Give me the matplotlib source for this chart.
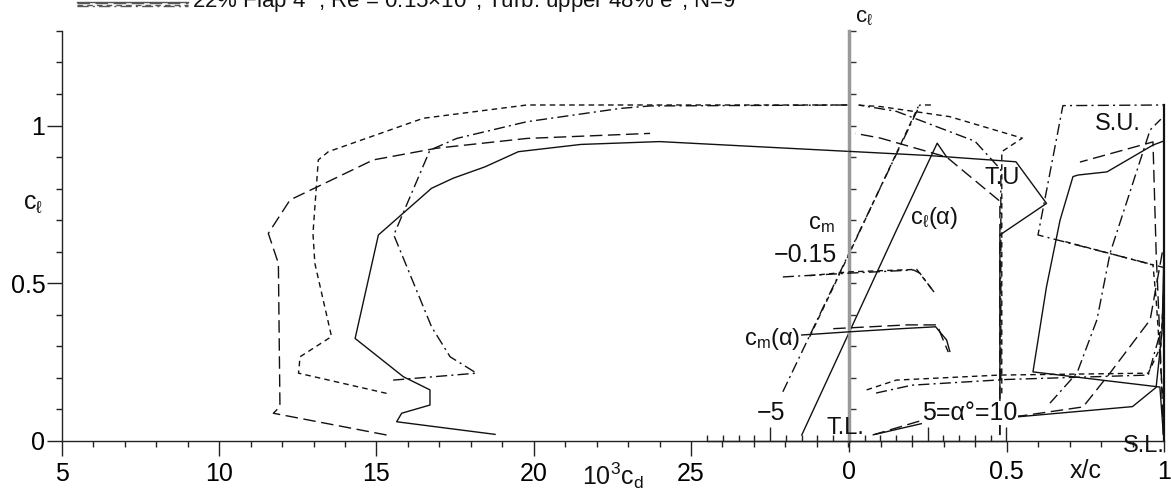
import numpy as np
import matplotlib.pyplot as plt
from matplotlib.lines import Line2D

plt.rcParams['font.family'] = ['Liberation Sans', 'DejaVu Sans']
plt.rcParams['mathtext.fontset'] = 'custom'
plt.rcParams['mathtext.rm'] = 'Liberation Sans'
plt.rcParams['mathtext.it'] = 'Liberation Sans'
plt.rcParams['mathtext.bf'] = 'Liberation Sans'

# ---- drag polar, 10^3 cd vs cl (four runs) ----
cd_solid = [18.77, 15.64, 15.80, 16.70, 16.70, 15.85, 14.32, 15.06, 16.75, 17.44, 18.45, 19.51, 21.5, 24.0, 30.0]
cl_solid = [0.021, 0.061, 0.088, 0.114, 0.162, 0.204, 0.325, 0.653, 0.801, 0.833, 0.869, 0.917, 0.940, 0.949, 0.918]
cd_long = [15.32, 11.72, 11.93, 11.88, 11.56, 12.25, 14.90, 16.91, 19.78, 23.70]
cl_long = [0.019, 0.088, 0.109, 0.563, 0.658, 0.764, 0.891, 0.928, 0.959, 0.975]
cd_short = [15.32, 12.52, 12.57, 13.57, 13.04, 12.98, 13.15, 13.47, 16.49, 19.78, 30.0]
cl_short = [0.151, 0.215, 0.267, 0.331, 0.563, 0.658, 0.891, 0.917, 1.023, 1.065, 1.065]
cd_dd = [15.53, 18.18, 17.34, 16.75, 15.55, 16.70, 17.55, 19.78, 22.74, 23.7, 30.0]
cl_dd = [0.193, 0.215, 0.267, 0.362, 0.653, 0.922, 0.959, 1.012, 1.054, 1.062, 1.065]

# ---- lift curves cl(alpha) ----
alpha_cl_solid = [-3.0, 0.0, 3.0, 5.6, 6.2]
cl_alpha_solid = [0.019, 0.343, 0.667, 0.944, 0.900]
alpha_cl_dd = [-4.2, 0.0, 4.5, 5.2]
cl_alpha_dd = [0.156, 0.595, 1.065, 1.065]
alpha_cl_short = [-2.5, 0.0, 4.4]
cl_alpha_short = [0.330, 0.592, 1.060]

# ---- moment curves cm(alpha) ----
alpha_cm_solid = [-3.0, 0.0, 3.0, 5.5, 6.2, 6.4]
cm_solid = [-0.084, -0.0865, -0.0888, -0.0905, -0.080, -0.071]
alpha_cm_long = [-1.0, 3.7, 5.6, 5.8, 6.3]
cm_long = [-0.089, -0.092, -0.092, -0.0855, -0.0705]
alpha_cm_dd = [-4.2, 0.0, 4.1, 4.5, 5.4]
cm_dd = [-0.130, -0.133, -0.1355, -0.133, -0.118]
alpha_cm_short = [-2.5, 0.0, 4.3, 5.4]
cm_short = [-0.131, -0.134, -0.136, -0.118]

# ---- transition (T.U., T.L.) and separation (S.U., S.L.) x/c vs cl ----
tu_solid_xc = [0.479, 0.479, 0.627, 0.53, 0.25, 0.0]
tu_solid_cl = [0.021, 0.653, 0.753, 0.885, 0.905, 0.918]
tu_long_xc = [0.479, 0.479, 0.31, 0.10, 0.02]
tu_long_cl = [0.019, 0.76, 0.90, 0.96, 0.975]
tu_short_xc = [0.485, 0.485, 0.55, 0.32, 0.10, 0.02]
tu_short_cl = [0.151, 0.917, 0.96, 1.028, 1.06, 1.065]
tu_dd_xc = [0.482, 0.482, 0.40, 0.15, 0.03]
tu_dd_cl = [0.193, 0.86, 0.95, 1.045, 1.065]

tl_solid_xc = [0.083, 0.23, 0.54, 0.90, 0.975, 0.994, 1.0]
tl_solid_cl = [0.021, 0.055, 0.077, 0.109, 0.17, 0.35, 0.6]
tl_long_xc = [0.075, 0.22, 0.55, 0.743, 0.829, 0.956, 0.995]
tl_long_cl = [0.019, 0.062, 0.08, 0.108, 0.216, 0.384, 0.6]
tl_short_xc = [0.056, 0.15, 0.479, 0.95, 0.99, 1.0]
tl_short_cl = [0.162, 0.193, 0.209, 0.215, 0.3, 0.5]
tl_dd_xc = [0.086, 0.2, 0.5, 0.95, 0.99]
tl_dd_cl = [0.152, 0.177, 0.195, 0.209, 0.35]

su_solid_xc = [0.998, 0.987, 0.584, 0.627, 0.67, 0.711, 0.727, 0.819, 0.965, 0.997]
su_solid_cl = [0.021, 0.171, 0.219, 0.489, 0.70, 0.838, 0.843, 0.853, 0.938, 0.95]
su_long_xc = [0.998, 0.99, 0.975, 0.965, 0.733]
su_long_cl = [0.019, 0.25, 0.6, 0.948, 0.884]
su_short_xc = [0.995, 0.975, 0.965, 0.686]
su_short_cl = [0.151, 0.45, 0.558, 0.632]
su_dd_xc = [0.999, 0.999, 0.60, 0.679, 0.997]
su_dd_cl = [0.193, 0.55, 0.653, 1.063, 1.065]
sl_dd_xc = [0.638, 0.724, 0.787, 0.829, 0.956, 0.99]
sl_dd_cl = [0.12, 0.216, 0.384, 0.596, 0.986, 1.02]
sl_xc = [1.0, 1.0]
sl_cl = [0.0, 1.065]

cd_ticks = [5, 10, 15, 20, 25]
cl_ticks = [0, 0.5, 1]
xc_ticks = [0, 0.5, 1]

W, H = 1171, 493
LS = {'solid': '-', 'long': (0, (9, 4)), 'short': (0, (4, 3)), 'dd': (0, (8, 3, 1.5, 3))}
INK = '#111111'

fig = plt.figure(figsize=(W / 100, H / 100), dpi=100)


def frame(v0, px0, sx, ylim):
  # overlay axes spanning the figure; px0 = pixel where v0 sits, sx = px per unit
  ax = fig.add_axes([0, 0, 1, 1], facecolor='none')
  ax.set_xlim(v0 - px0 / sx, v0 + (W - px0) / sx)
  ax.set_ylim(*ylim)
  for s in ax.spines.values():
    s.set_visible(False)
  ax.set_xticks([])
  ax.set_yticks([])
  return ax


cl_lim = (-(H - 441) / 315.5, 441 / 315.5)
cm_lim = tuple(-0.15 - (c - 0.6) * 0.25 for c in cl_lim)

ax = frame(5, 62, 31.45, cl_lim)      # cd polar
axa = frame(0, 849, 15.75, cl_lim)    # alpha vs cl
axm = frame(0, 849, 15.75, cm_lim)    # alpha vs cm
axx = frame(0, 849, 315.0, cl_lim)    # x/c vs cl


def curve(a, x, y, style, lw=1.0):
  a.plot(x, y, color=INK, lw=lw, ls=LS[style], dash_capstyle='butt')


# axes lines and ticks
ax.spines['left'].set_visible(True)
ax.spines['left'].set_position(('data', 5))
ax.spines['left'].set_bounds(0, 1.3)
ax.spines['bottom'].set_visible(True)
ax.spines['bottom'].set_position(('data', 0))
ax.spines['bottom'].set_bounds(5, 30)
ax.set_yticks(cl_ticks, ['0', '0.5', '1'])
ax.set_yticks(np.round(np.arange(14) * 0.1, 1), minor=True)
ax.set_xticks(cd_ticks, [str(t) for t in cd_ticks])
ax.set_xticks(np.arange(5, 31), minor=True)
ax.tick_params(which='major', direction='out', length=11, width=1, color='#222222', labelsize=18, pad=4)
ax.tick_params(axis='y', which='major', pad=1)
ax.tick_params(which='minor', direction='out', length=4.5, width=1, color='#222222')

axx.spines['bottom'].set_visible(True)
axx.spines['bottom'].set_position(('data', 0))
axx.spines['bottom'].set_bounds(0, 1)
axx.set_xticks(xc_ticks, ['0', '0.5', '1'])
axx.set_xticks(np.round(np.arange(11) * 0.1, 1), minor=True)
axx.tick_params(axis='x', which='major', direction='out', length=8, width=1, color='#222222', labelsize=18, pad=6)
axx.tick_params(axis='x', which='minor', direction='out', length=4.5, width=1, color='#222222')

axa.spines['bottom'].set_visible(True)
axa.spines['bottom'].set_position(('data', 0))
axa.spines['bottom'].set_bounds(-9, 10)
axa.set_xticks([-5, 5, 10])
axa.set_xticks(np.arange(-9, 11), minor=True)
axa.tick_params(axis='x', which='major', direction='in', length=10, width=1, color='#222222', labelbottom=False)
axa.tick_params(axis='x', which='minor', direction='in', length=4.5, width=1, color='#222222')
axa.spines['left'].set_visible(True)
axa.spines['left'].set_position(('data', 0))
axa.spines['left'].set_bounds(0, 1.3)
axa.spines['left'].set_color('#999999')
axa.spines['left'].set_linewidth(2.5)
axa.set_yticks(np.round(np.arange(1, 14) * 0.1, 1))
axa.tick_params(axis='y', direction='in', length=5, width=1, color='#333333', labelleft=False)
for a in (ax, axa, axx):
  for s in ('left', 'bottom'):
    if a is axa and s == 'left':
      continue
    a.spines[s].set_color('#222222')
    a.spines[s].set_linewidth(1.0)

# polars
curve(ax, cd_solid, cl_solid, 'solid')
curve(ax, cd_long, cl_long, 'long')
curve(ax, cd_short, cl_short, 'short')
curve(ax, cd_dd, cl_dd, 'dd')

# cl(alpha), cm(alpha)
curve(axa, alpha_cl_solid, cl_alpha_solid, 'solid')
curve(axa, alpha_cl_dd, cl_alpha_dd, 'dd')
curve(axa, alpha_cl_short, cl_alpha_short, 'short')
curve(axm, alpha_cm_solid, cm_solid, 'solid')
curve(axm, alpha_cm_long, cm_long, 'long')
curve(axm, alpha_cm_dd, cm_dd, 'dd')
curve(axm, alpha_cm_short, cm_short, 'short')

# transition / separation
curve(axx, tu_solid_xc, tu_solid_cl, 'solid')
curve(axx, tu_long_xc, tu_long_cl, 'long')
curve(axx, tu_short_xc, tu_short_cl, 'short')
curve(axx, tu_dd_xc, tu_dd_cl, 'dd')
curve(axx, tl_solid_xc, tl_solid_cl, 'solid')
curve(axx, tl_long_xc, tl_long_cl, 'long')
curve(axx, tl_short_xc, tl_short_cl, 'short')
curve(axx, tl_dd_xc, tl_dd_cl, 'dd')
curve(axx, su_solid_xc, su_solid_cl, 'solid')
curve(axx, su_long_xc, su_long_cl, 'long')
curve(axx, su_short_xc, su_short_cl, 'short')
curve(axx, su_dd_xc, su_dd_cl, 'dd')
curve(axx, sl_dd_xc, sl_dd_cl, 'dd')
curve(axx, sl_xc, sl_cl, 'solid', lw=1.6)


def label(x, y, s, size=17, **kw):
  kw.setdefault('ha', 'center')
  kw.setdefault('va', 'center')
  fig.text(x / W, 1 - y / H, s, fontsize=size, color=INK, **kw)


label(192, 8, r"22% Flap 4$^\circ$, Re = 0.15×10$^6$, Turb. upper 48% e$^9$, N=9", size=16, ha='left', va='baseline')
for k, (st, yy) in enumerate([('solid', 1.5), ('long', 3.0), ('short', 4.5), ('dd', 6.0)]):
  fig.add_artist(Line2D([77 / W, 188 / W], [1 - yy / H] * 2, color='#555555', lw=1.0, ls=LS[st]))

label(33, 203, r"c$_\ell$", size=18)
label(613, 476, r"10$^3$c$_d$", size=18)
label(864, 17, r"c$_\ell$", size=16)
label(1086, 471, "x/c", size=18)
label(1144, 446, "S.L.", size=17)
label(1118, 124, "S.U.", size=17)
label(1002, 178, "T.U", size=17)
label(845, 428, "T.L.", size=17)
label(934, 218, r"c$_\ell$(α)", size=17)
label(821, 224, r"c$_m$", size=17)
label(805, 255, "−0.15", size=18)
label(800, 339, r"c$_m$(α)", size=17, ha='right')
label(771, 413, "−5", size=18)
label(970, 413, "5=α°=10", size=18, bbox=dict(fc='white', ec='none', pad=0))

fig.savefig('out.png', dpi=100)
